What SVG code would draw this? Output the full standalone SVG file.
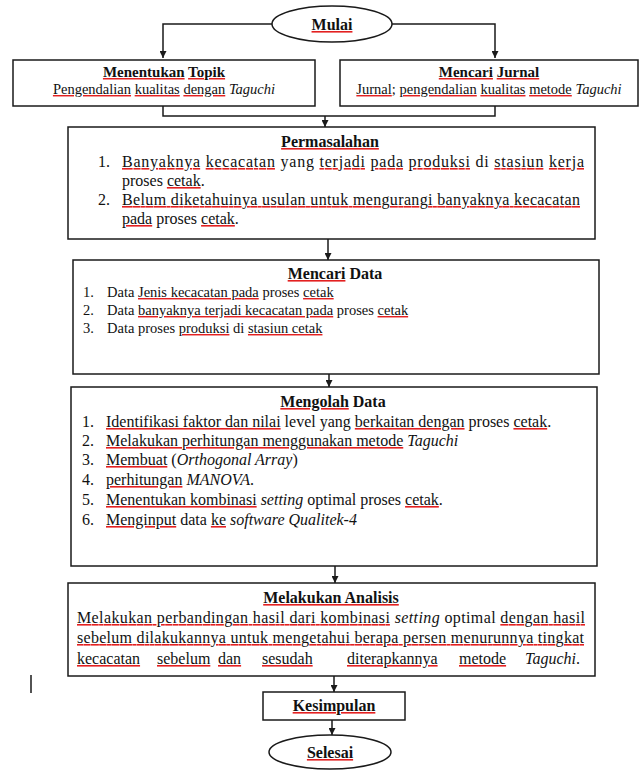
<svg xmlns="http://www.w3.org/2000/svg" width="644" height="771" viewBox="0 0 644 771">
<style>
  .box { fill: #fff; stroke: #1a1a1a; stroke-width: 1.5; }
  .con { fill: none; stroke: #1a1a1a; stroke-width: 1.5; }
  text { font-family: "Liberation Serif", "Times New Roman", serif; fill: #111; }
  .t { font-weight: bold; font-size: 16px; text-anchor: middle; }
  .b { font-size: 16px; }
  .s { font-size: 14.5px; }
  .i { font-style: italic; }
  .sq { fill: #e32020; text-decoration: underline; }
  .k { fill: #111; }
</style>
<defs>
  <marker id="ah" viewBox="0 0 10 10" refX="10" refY="5" markerWidth="7" markerHeight="7" markerUnits="userSpaceOnUse" orient="auto">
    <path d="M0,0 L10,5 L0,10 z" fill="#1a1a1a"/>
  </marker>
</defs>

<g id="connectors">
  <path class="con" d="M272,24 H163 V58" marker-end="url(#ah)"/>
  <path class="con" d="M392,24 H495 V58" marker-end="url(#ah)"/>
  <path class="con" d="M163,106 V116 H495 V106"/>
  <path class="con" d="M325,116 V127" marker-end="url(#ah)"/>
  <path class="con" d="M328,239 V260" marker-end="url(#ah)"/>
  <path class="con" d="M329,374 V387" marker-end="url(#ah)"/>
  <path class="con" d="M335,566 V583" marker-end="url(#ah)"/>
  <path class="con" d="M334,676 V692" marker-end="url(#ah)"/>
  <path class="con" d="M332,720 V735" marker-end="url(#ah)"/>
</g>

<g id="mulai">
  <ellipse class="box" cx="332" cy="24" rx="60" ry="18"/>
  <text class="t" x="332" y="30"><tspan class="sq"><tspan class="k">Mulai</tspan></tspan></text>
</g>

<g id="menentukan-topik">
  <rect class="box" x="13" y="60" width="302" height="46"/>
  <text class="t" x="164" y="77" style="font-size:15px"><tspan class="sq"><tspan class="k">Menentukan</tspan></tspan> <tspan class="sq"><tspan class="k">Topik</tspan></tspan></text>
  <text class="s" x="164" y="94" text-anchor="middle"><tspan class="sq"><tspan class="k">Pengendalian</tspan></tspan>  <tspan class="sq"><tspan class="k">kualitas</tspan></tspan> <tspan class="sq"><tspan class="k">dengan</tspan></tspan> <tspan class="i">Taguchi</tspan></text>
</g>

<g id="mencari-jurnal">
  <rect class="box" x="340" y="60" width="298" height="46"/>
  <text class="t" x="489" y="77" style="font-size:15px"><tspan class="sq"><tspan class="k">Mencari</tspan></tspan> <tspan class="sq"><tspan class="k">Jurnal</tspan></tspan></text>
  <text class="s" x="489" y="94" text-anchor="middle"><tspan class="sq"><tspan class="k">Jurnal</tspan></tspan>; <tspan class="sq"><tspan class="k">pengendalian</tspan></tspan>  <tspan class="sq"><tspan class="k">kualitas</tspan></tspan> <tspan class="sq"><tspan class="k">metode</tspan></tspan> <tspan class="i">Taguchi</tspan></text>
</g>

<g id="permasalahan">
  <rect class="box" x="68" y="127" width="527" height="112"/>
  <text class="t" x="330" y="147"><tspan class="sq"><tspan class="k">Permasalahan</tspan></tspan></text>
  <text class="b" x="98" y="167">1.</text>
  <text class="b" x="122" y="167" textLength="462" lengthAdjust="spacing"><tspan class="sq"><tspan class="k">Banyaknya</tspan></tspan>  <tspan class="sq"><tspan class="k">kecacatan</tspan></tspan> yang <tspan class="sq"><tspan class="k">terjadi</tspan></tspan> <tspan class="sq"><tspan class="k">pada</tspan></tspan> <tspan class="sq"><tspan class="k">produksi</tspan></tspan> di <tspan class="sq"><tspan class="k">stasiun</tspan></tspan> <tspan class="sq"><tspan class="k">kerja</tspan></tspan></text>
  <text class="b" x="122" y="186">proses <tspan class="sq"><tspan class="k">cetak</tspan></tspan>.</text>
  <text class="b" x="98" y="205">2.</text>
  <text class="b" x="122" y="205" textLength="458" lengthAdjust="spacing"><tspan class="sq"><tspan class="k">Belum diketahuinya usulan untuk mengurangi banyaknya kecacatan</tspan></tspan></text>
  <text class="b" x="122" y="224"><tspan class="sq"><tspan class="k">pada</tspan></tspan> proses <tspan class="sq"><tspan class="k">cetak</tspan></tspan>.</text>
</g>

<g id="mencari-data">
  <rect class="box" x="73" y="260" width="526" height="114"/>
  <text class="t" x="335" y="279"><tspan class="sq"><tspan class="k">Mencari</tspan></tspan> Data</text>
  <text class="s" x="83" y="297">1.</text>
  <text class="s" x="107" y="297">Data <tspan class="sq"><tspan class="k">Jenis kecacatan pada</tspan></tspan> proses <tspan class="sq"><tspan class="k">cetak</tspan></tspan></text>
  <text class="s" x="83" y="315">2.</text>
  <text class="s" x="107" y="315">Data <tspan class="sq"><tspan class="k">banyaknya terjadi kecacatan pada</tspan></tspan> proses <tspan class="sq"><tspan class="k">cetak</tspan></tspan></text>
  <text class="s" x="83" y="333">3.</text>
  <text class="s" x="107" y="333">Data proses <tspan class="sq"><tspan class="k">produksi</tspan></tspan> di <tspan class="sq"><tspan class="k">stasiun cetak</tspan></tspan></text>
</g>

<g id="mengolah-data">
  <rect class="box" x="71" y="387" width="526" height="179"/>
  <text class="t" x="333" y="407"><tspan class="sq"><tspan class="k">Mengolah</tspan></tspan> Data</text>
  <text class="b" x="82" y="427">1.</text>
  <text class="b" x="106" y="427"><tspan class="sq"><tspan class="k">Identifikasi faktor dan nilai</tspan></tspan> level yang <tspan class="sq"><tspan class="k">berkaitan dengan</tspan></tspan> proses <tspan class="sq"><tspan class="k">cetak</tspan></tspan>.</text>
  <text class="b" x="82" y="446">2.</text>
  <text class="b" x="106" y="446"><tspan class="sq"><tspan class="k">Melakukan perhitungan menggunakan metode</tspan></tspan> <tspan class="i">Taguchi</tspan></text>
  <text class="b" x="82" y="465">3.</text>
  <text class="b" x="106" y="465"><tspan class="sq"><tspan class="k">Membuat</tspan></tspan> (<tspan class="i">Orthogonal Array</tspan>)</text>
  <text class="b" x="82" y="485">4.</text>
  <text class="b" x="106" y="485"><tspan class="sq"><tspan class="k">perhitungan</tspan></tspan> <tspan class="i">MANOVA</tspan>.</text>
  <text class="b" x="82" y="505">5.</text>
  <text class="b" x="106" y="505"><tspan class="sq"><tspan class="k">Menentukan kombinasi</tspan></tspan> <tspan class="i">setting</tspan> optimal proses <tspan class="sq"><tspan class="k">cetak</tspan></tspan>.</text>
  <text class="b" x="82" y="525">6.</text>
  <text class="b" x="106" y="525"><tspan class="sq"><tspan class="k">Menginput</tspan></tspan> data <tspan class="sq"><tspan class="k">ke</tspan></tspan> <tspan class="i">software Qualitek-4</tspan></text>
</g>

<g id="melakukan-analisis">
  <rect class="box" x="68" y="583" width="527" height="93"/>
  <text class="t" x="331" y="603"><tspan class="sq"><tspan class="k">Melakukan Analisis</tspan></tspan></text>
  <text class="b" x="77" y="623" textLength="508" lengthAdjust="spacing"><tspan class="sq"><tspan class="k">Melakukan perbandingan hasil dari kombinasi</tspan></tspan> <tspan class="i">setting</tspan> optimal <tspan class="sq"><tspan class="k">dengan hasil</tspan></tspan></text>
  <text class="b" x="77" y="643" textLength="507" lengthAdjust="spacing"><tspan class="sq"><tspan class="k">sebelum dilakukannya untuk mengetahui berapa persen menurunnya tingkat</tspan></tspan></text>
  <text class="b" y="664"><tspan x="77" class="sq"><tspan class="k">kecacatan</tspan></tspan><tspan x="157" class="sq"><tspan class="k">sebelum</tspan></tspan><tspan x="218" class="sq"><tspan class="k">dan</tspan></tspan><tspan x="262" class="sq"><tspan class="k">sesudah</tspan></tspan><tspan x="347" class="sq"><tspan class="k">diterapkannya</tspan></tspan><tspan x="459" class="sq"><tspan class="k">metode</tspan></tspan><tspan x="525" class="i">Taguchi</tspan>.</text>
</g>

<line class="con" x1="31" y1="675" x2="31" y2="693"/>

<g id="kesimpulan">
  <rect class="box" x="263" y="692" width="142" height="28"/>
  <text class="t" x="334" y="711"><tspan class="sq"><tspan class="k">Kesimpulan</tspan></tspan></text>
</g>

<g id="selesai">
  <ellipse class="box" cx="330" cy="752" rx="61" ry="17"/>
  <text class="t" x="330" y="758"><tspan class="sq"><tspan class="k">Selesai</tspan></tspan></text>
</g>
</svg>
